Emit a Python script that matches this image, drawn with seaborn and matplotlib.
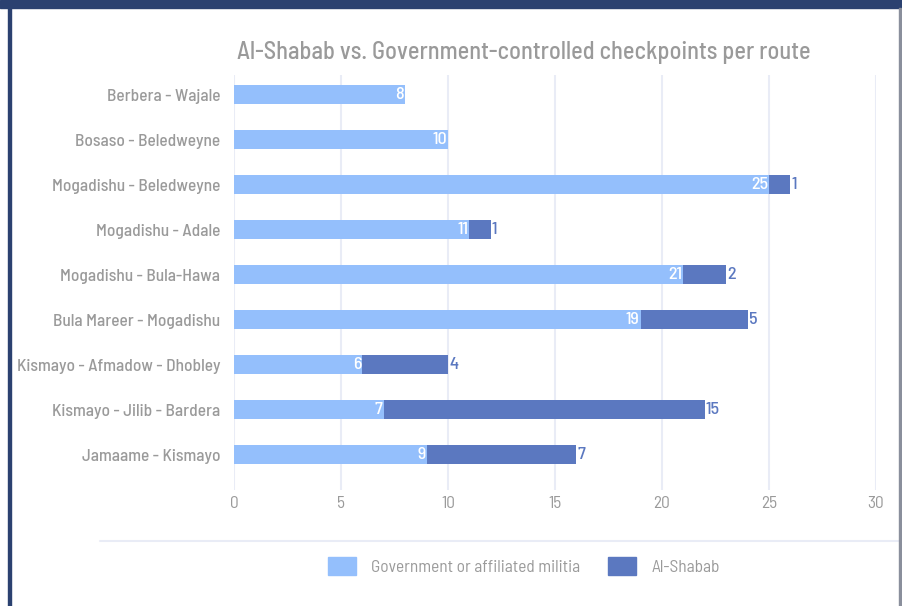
import matplotlib
matplotlib.use("Agg")
import matplotlib.pyplot as plt
from matplotlib.patches import Rectangle
from matplotlib.lines import Line2D
from matplotlib import font_manager
import seaborn as sns
import pandas as pd

routes = ["Berbera - Wajale", "Bosaso - Beledweyne", "Mogadishu - Beledweyne",
          "Mogadishu - Adale", "Mogadishu - Bula-Hawa", "Bula Mareer - Mogadishu",
          "Kismayo - Afmadow - Dhobley", "Kismayo - Jilib - Bardera", "Jamaame - Kismayo"]
government = [8, 10, 25, 11, 21, 19, 6, 7, 9]
al_shabab = [0, 0, 1, 1, 2, 5, 4, 15, 7]
x_ticks = [0, 5, 10, 15, 20, 25, 30]
title = "Al-Shabab vs. Government-controlled checkpoints per route"
series_names = ["Government or affiliated militia", "Al-Shabab"]

LIGHT = "#94bffc"
DARK = "#5b78c0"
GRAY = "#9a9a9a"
GRID = "#e9ecf6"

sns.set_theme(style="white")
names = {f.name for f in font_manager.fontManager.ttflist}
fam = "DejaVu Sans"
for cand in ["Barlow Semi Condensed", "Barlow Condensed", "Asap Condensed", "Archivo Narrow"]:
    if cand in names:
        fam = cand
        break
plt.rcParams["font.family"] = [fam, "DejaVu Sans"]

df = pd.DataFrame({"route": routes, "gov": government, "shabab": al_shabab})
df["total"] = df["gov"] + df["shabab"]

fig = plt.figure(figsize=(9.02, 6.06), dpi=100)
ax = fig.add_axes([234 / 902, 1 - 490 / 606, 642 / 902, 415 / 606])

sns.barplot(data=df, y="route", x="total", orient="h", color=DARK, width=0.42,
            saturation=1, ax=ax, zorder=3, linewidth=0)
sns.barplot(data=df, y="route", x="gov", orient="h", color=LIGHT, width=0.42,
            saturation=1, ax=ax, zorder=4, linewidth=0)

n = len(routes)
dark_bars = ax.patches[:n]
light_bars = ax.patches[n:2 * n]
for b in ax.patches:
    b.set_linewidth(0)
for b in light_bars:
    b.set_zorder(4)
for i in range(n):
    lb = light_bars[i]
    yc = lb.get_y() + lb.get_height() / 2
    ax.text(lb.get_x() + lb.get_width() - 0.05, yc, str(government[i]), ha="right",
            va="center", color="white", fontsize=13, fontweight="medium", zorder=6)
    if al_shabab[i] > 0:
        db = dark_bars[i]
        ax.text(db.get_x() + db.get_width() + 0.05, yc, str(al_shabab[i]), ha="left",
                va="center", color=DARK, fontsize=13, fontweight="medium", zorder=6)

ax.set_xlim(0, 30)
ax.set_ylim(8.78, -0.44)
ax.set_xticks(x_ticks)
ax.set_xticklabels([str(t) for t in x_ticks])
for t in x_ticks:
    ax.axvline(t, color=GRID, lw=1.5, zorder=1)
for s in ax.spines.values():
    s.set_visible(False)
ax.tick_params(axis="y", length=0, pad=10, labelsize=12.5, labelcolor=GRAY)
for lab in ax.get_yticklabels():
    lab.set_fontweight("medium")
ax.tick_params(axis="x", length=0, pad=4, labelsize=12.5, labelcolor=GRAY)
ax.set_xlabel("")
ax.set_ylabel("")

fig.text(524 / 902, 1 - 52 / 606, title, ha="center", va="center", fontsize=17.5,
         color=GRAY, fontweight="medium")

# legend
handles = [Rectangle((0, 0), 1, 1, color=LIGHT), Rectangle((0, 0), 1, 1, color=DARK)]
fig.legend(handles, series_names, loc="center", bbox_to_anchor=(524 / 902, 1 - 566 / 606),
           ncol=2, frameon=False, fontsize=12.5, labelcolor=GRAY, handlelength=1.6,
           handleheight=1.3, columnspacing=1.6, handletextpad=0.9)

# separator line above legend
fig.add_artist(Line2D([100 / 902, 1], [1 - 541 / 606] * 2, color=GRID, lw=1.5,
                      transform=fig.transFigure))
# frame decoration
fig.add_artist(Rectangle((0, 1 - 8 / 606), 1, 8 / 606, color="#2b4170",
                         transform=fig.transFigure, zorder=10))
fig.add_artist(Rectangle((8 / 902, 0), 3 / 902, 1, color="#2b4170",
                         transform=fig.transFigure, zorder=10))
fig.add_artist(Rectangle((899 / 902, 0), 2 / 902, 1 - 8 / 606, color="#8a8f9c",
                         transform=fig.transFigure, zorder=10))

fig.savefig("out.png", dpi=100)
